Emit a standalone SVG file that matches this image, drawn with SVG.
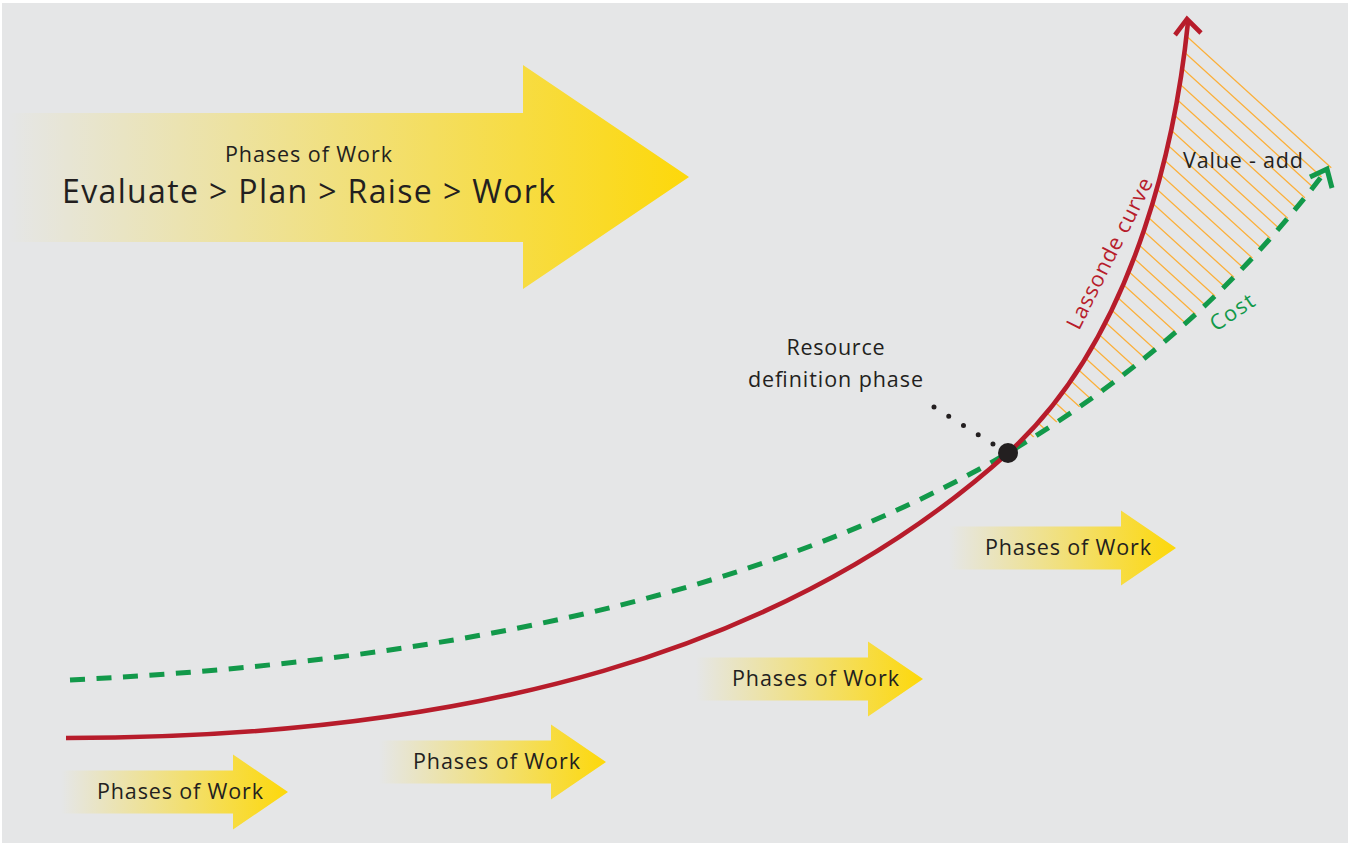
<svg xmlns="http://www.w3.org/2000/svg" width="1348" height="843" viewBox="0 0 1348 843">
  <style>
    .txt { font-family: "Open Sans", "Liberation Sans", sans-serif; fill: #231f20; }
    .lbl { font-size: 21.5px; }
    .phase { fill: url(#fade); }
    .red { fill: none; stroke: #b71c2b; stroke-width: 4.6; }
    .green { fill: none; stroke: #12994a; stroke-width: 5; }
    .hatch { fill: none; stroke: #fbb03b; stroke-width: 1.3; }
  </style>
  <defs>
    <!-- yellow fading in from the left -->
    <linearGradient id="fade" x1="0" y1="0" x2="1" y2="0">
      <stop offset="0" stop-color="#fddb13" stop-opacity="0"/>
      <stop offset="1" stop-color="#fdd80a" stop-opacity="1"/>
    </linearGradient>
    <!-- small phase arrow, head base at the origin -->
    <path id="smallArrow" d="M-172,-21.5 H0 V-37.5 L55,0 L0,37.5 V21.5 H-172 Z"/>
    <!-- area between the Lassonde curve and the cost curve -->
    <clipPath id="valueArea">
      <path d="M1008,453 C1141.7,332.6 1178,120 1188,22 L1345,160 L1327,170 C1237.5,286.5 1136.6,375.9 1008,453 Z"/>
    </clipPath>
  </defs>

  <!-- background -->
  <rect x="0" y="0" width="1348" height="843" fill="#ffffff"/>
  <rect x="2" y="3" width="1346" height="840" fill="#e5e6e7"/>

  <!-- main phases arrow -->
  <g id="phases-main">
    <path class="phase" d="M8,113 H523 V65 L689,177 L523,289 V242 H8 Z"/>
    <text class="txt lbl" x="308.5" y="162" text-anchor="middle" textLength="167">Phases of Work</text>
    <text class="txt" x="62" y="203" font-size="32" textLength="493">Evaluate &gt; Plan &gt; Raise &gt; Work</text>
  </g>

  <!-- phase arrows along the curve -->
  <g id="phase-1">
    <use href="#smallArrow" class="phase" transform="translate(233,792)"/>
    <text class="txt lbl" x="97" y="799" textLength="166">Phases of Work</text>
  </g>
  <g id="phase-2">
    <use href="#smallArrow" class="phase" transform="translate(551,762)"/>
    <text class="txt lbl" x="413" y="769" textLength="167">Phases of Work</text>
  </g>
  <g id="phase-3">
    <use href="#smallArrow" class="phase" transform="translate(868,679)"/>
    <text class="txt lbl" x="732" y="686" textLength="167">Phases of Work</text>
  </g>
  <g id="phase-4">
    <use href="#smallArrow" class="phase" transform="translate(1121,548)"/>
    <text class="txt lbl" x="985" y="555" textLength="166">Phases of Work</text>
  </g>

  <!-- value-add hatching -->
  <g id="value-add">
    <path class="hatch" clip-path="url(#valueArea)" d="M1000,-133.6 l340,309.4 m-340,-291.4 l340,309.4 m-340,-291.4 l340,309.4 m-340,-291.4 l340,309.4 m-340,-291.4 l340,309.4 m-340,-291.4 l340,309.4 m-340,-291.4 l340,309.4 m-340,-291.4 l340,309.4 m-340,-291.4 l340,309.4 m-340,-291.4 l340,309.4 m-340,-291.4 l340,309.4 m-340,-291.4 l340,309.4 m-340,-291.4 l340,309.4 m-340,-291.4 l340,309.4 m-340,-291.4 l340,309.4 m-340,-291.4 l340,309.4 m-340,-291.4 l340,309.4 m-340,-291.4 l340,309.4 m-340,-291.4 l340,309.4 m-340,-291.4 l340,309.4 m-340,-291.4 l340,309.4 m-340,-291.4 l340,309.4 m-340,-291.4 l340,309.4 m-340,-291.4 l340,309.4 m-340,-291.4 l340,309.4 m-340,-291.4 l340,309.4 m-340,-291.4 l340,309.4 m-340,-291.4 l340,309.4 m-340,-291.4 l340,309.4 m-340,-291.4 l340,309.4 m-340,-291.4 l340,309.4 m-340,-291.4 l340,309.4 m-340,-291.4 l340,309.4"/>
    <text class="txt lbl" x="1183" y="168" textLength="120">Value - add</text>
  </g>

  <!-- curves -->
  <g id="connectors">
    <path id="cost-curve" class="green" stroke-dasharray="15 11.5" d="M70,680 C420,662.5 748.5,603.6 1008,453 C1136.6,375.9 1237.5,286.5 1325,172"/>
    <polyline class="green" points="1310,177 1327,169 1332,188" stroke-linejoin="miter"/>
    <path id="lassonde-curve" class="red" d="M66,738 C466,738 785,654 1008,453 C1141.7,332.6 1178,120 1188,22"/>
    <polyline class="red" points="1175,35 1187,19 1201,33" stroke-linejoin="miter"/>
    <line x1="934" y1="407" x2="993" y2="444" stroke="#231f20" stroke-width="5" stroke-linecap="round" stroke-dasharray="0 17.4"/>
  </g>

  <!-- curve labels -->
  <text class="lbl" x="0" y="0" font-family="Open Sans, Liberation Sans, sans-serif" fill="#b71c2b" textLength="166" transform="translate(1079,331) rotate(-63.4)">Lassonde curve</text>
  <text class="lbl" x="0" y="0" font-family="Open Sans, Liberation Sans, sans-serif" fill="#12994a" textLength="49" transform="translate(1216,332) rotate(-34)">Cost</text>

  <!-- resource definition point -->
  <g id="resource-definition">
    <circle cx="1008" cy="453" r="10" fill="#231f20"/>
    <text class="txt lbl" x="835.5" y="355" text-anchor="middle" textLength="98">Resource</text>
    <text class="txt lbl" x="835.5" y="387" text-anchor="middle" textLength="175">definition phase</text>
  </g>
</svg>
